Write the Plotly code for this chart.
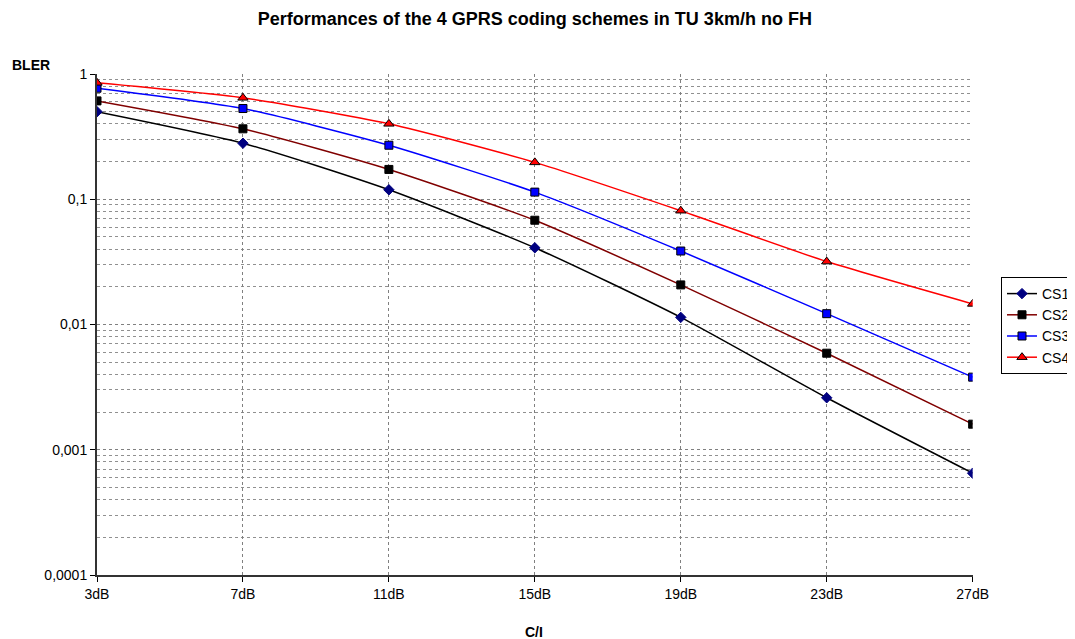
import plotly.graph_objects as go

snr = [3, 7, 11, 15, 19, 23, 27]
snr_labels = ["3dB", "7dB", "11dB", "15dB", "19dB", "23dB", "27dB"]

cs1 = [0.50, 0.28, 0.119, 0.041, 0.0114, 0.0026, 0.00065]
cs2 = [0.61, 0.365, 0.173, 0.068, 0.0207, 0.0059, 0.0016]
cs3 = [0.77, 0.53, 0.27, 0.114, 0.0386, 0.0122, 0.0038]
cs4 = [0.85, 0.645, 0.40, 0.197, 0.081, 0.0318, 0.0146]

y_ticks = [1, 0.1, 0.01, 0.001, 0.0001]
y_labels = ["1", "0,1", "0,01", "0,001", "0,0001"]

series = [
    ("CS1", cs1, "black", "diamond", 8, "#000080", "#000080"),
    ("CS2", cs2, "#800000", "square", 8, "black", "black"),
    ("CS3", cs3, "blue", "square", 8, "blue", "black"),
    ("CS4", cs4, "red", "triangle-up", 9, "red", "black"),
]

fig = go.Figure()
for name, vals, lc, sym, ms, mc, mlc in series:
    fig.add_trace(go.Scatter(
        x=snr, y=vals, name=name, mode="lines+markers",
        line=dict(color=lc, width=1.5, shape="spline", smoothing=0.6),
        marker=dict(symbol=sym, size=ms, color=mc, line=dict(color=mlc, width=1)),
    ))

# page body has an 8px margin, so the figure is a bit smaller than the window
fig.update_layout(
    width=1067, height=631,
    paper_bgcolor="white", plot_bgcolor="white",
    font=dict(family="Liberation Sans, Arial", size=14, color="black"),
    margin=dict(l=89, r=97, t=66, b=64),
    title=dict(text="<b>Performances of the 4 GPRS coding schemes in TU 3km/h no FH</b>",
               x=0.5, xanchor="center", xref="paper", y=0.9826, yanchor="middle",
               font=dict(size=18)),
    showlegend=True,
    # container refs so the legend doesn't push the right margin (it's cut off in the original)
    legend=dict(xref="container", yref="container", x=993 / 1067, y=0.5737,
                xanchor="left", yanchor="top",
                bordercolor="black", borderwidth=1, font=dict(size=14),
                tracegroupgap=0, itemwidth=30),
    annotations=[
        dict(text="<b>BLER</b>", xref="paper", yref="paper", x=-0.0992, y=1.018,
             xanchor="left", yanchor="middle", showarrow=False, font=dict(size=14)),
        dict(text="<b>C/I</b>", xref="paper", yref="paper", x=0.4994, y=-0.1138,
             xanchor="center", yanchor="middle", showarrow=False, font=dict(size=14)),
    ],
)

fig.update_xaxes(
    range=[3, 27], tickvals=snr, ticktext=snr_labels,
    showline=True, linecolor="#333333", linewidth=2,
    ticks="outside", ticklen=5, tickcolor="black",
    showgrid=True, gridcolor="#808080", gridwidth=1, griddash="dot",
    zeroline=False, mirror=False,
)
fig.update_yaxes(
    type="log", range=[-4, 0], tickvals=y_ticks, ticktext=y_labels,
    showline=True, linecolor="#333333", linewidth=2,
    ticks="outside", ticklen=5, tickcolor="black",
    showgrid=True, gridcolor="#808080", gridwidth=1, griddash="dot",
    minor=dict(dtick="D1", showgrid=True, gridcolor="#909090", griddash="dot", ticks=""),
    zeroline=False,
)

fig.write_html("out.html")
